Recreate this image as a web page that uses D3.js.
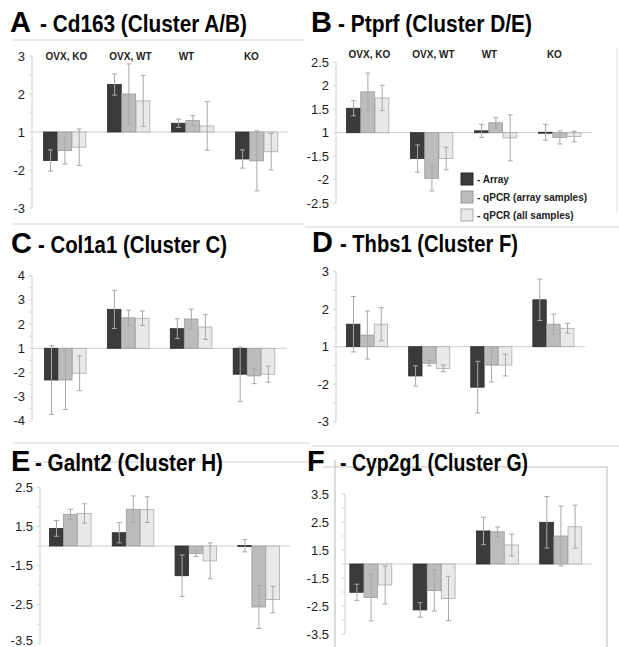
<!DOCTYPE html>
<html>
<head>
<meta charset="utf-8">
<script src="https://cdn.jsdelivr.net/npm/d3@7"></script>
<style>
  body { margin: 0; background: #fff; }
  svg { font-family: "Liberation Sans", Arial, sans-serif; }
</style>
</head>
<body>
<svg id="chart" width="619" height="647"></svg>
<script>
// groups and series
const categories = ["OVX, KO", "OVX, WT", "WT", "KO"];
const seriesNames = ["- Array", "- qPCR (array samples)", "- qPCR (all samples)"];

// fold change values, one row per series (Array, qPCR array samples, qPCR all samples)
const cd163Vals = [[-1.75, 2.25, 1.23, -1.71], [-1.49, 2.0, 1.3, -1.76], [-1.40, 1.82, 1.16, -1.52]];
const cd163Errs = [[0.28, 0.28, 0.11, 0.24], [0.35, 0.79, 0.13, 0.79], [0.48, 0.67, 0.64, 0.48]];
const cd163Ticks = [3, 2, 1, -2, -3];

const ptprfVals = [[1.52, -1.55, 1.04, 1.01], [1.87, -1.97, 1.21, -1.1], [1.74, -1.55, -1.11, -1.08]];
const ptprfErrs = [[0.16, 0.29, 0.14, 0.17], [0.40, 0.27, 0.11, 0.14], [0.27, 0.24, 0.49, 0.11]];
const ptprfTicks = [2.5, 2, 1.5, 1, -1.5, -2, -2.5];

const col1a1Vals = [[-2.31, 2.61, 1.81, -2.07], [-2.31, 2.26, 2.21, -2.14], [-2.03, 2.24, 1.88, -2.07]];
const col1a1Errs = [[1.42, 0.79, 0.41, 1.12], [1.22, 0.32, 0.41, 0.32], [0.72, 0.30, 0.51, 0.33]];
const col1a1Ticks = [4, 3, 2, 1, -2, -3, -4];

const thbs1Vals = [[1.6, -1.78, -2.08, 2.25], [1.31, -1.44, -1.49, 1.6], [1.6, -1.58, -1.49, 1.49]];
const thbs1Errs = [[0.74, 0.27, 0.69, 0.55], [0.64, 0.07, 0.45, 0.27], [0.44, 0.09, 0.29, 0.13]];
const thbs1Ticks = [3, 2, 1, -2, -3];

const galnt2Vals = [[1.45, 1.34, -1.76, 1.01], [1.81, 1.94, -1.19, -2.56], [1.83, 1.93, -1.38, -2.37]];
const galnt2Errs = [[0.20, 0.26, 0.53, 0.16], [0.13, 0.34, 0.08, 0.55], [0.25, 0.33, 0.46, 0.34]];
const galnt2Ticks = [2.5, 1.5, -1.5, -2.5, -3.5];

const cyp2g1Vals = [[-2.01, -2.64, 2.18, 2.49], [-2.2, -1.95, 2.15, 2.0], [-1.75, -2.23, 1.68, 2.33]];
const cyp2g1Errs = [[0.29, 0.26, 0.49, 0.92], [0.83, 0.73, 0.17, 1.07], [0.68, 0.79, 0.39, 0.77]];
const cyp2g1Ticks = [3.5, 2.5, 1.5, -1.5, -2.5, -3.5];

// fold change axis skips -1..1 : 1 and -1 both sit on the baseline
const fold = (v) => v >= 1 ? v - 1 : v + 1;

const fills = ["#3b3b3b", "#bcbcbc", "#e9e9e9"];
const strokes = ["#2a2a2a", "#9a9a9a", "#ababab"];

const panels = [
    {letter: "A", name: "- Cd163 (Cluster A/B)", vals: cd163Vals, errs: cd163Errs, ticks: cd163Ticks,
     ax: 32, gx: [32.4, 288.4], lineEnd: 288, y0: 132, k: 38, lx: 10, tx: 40, tw: 207, ty: 32, catY: 60},
    {letter: "B", name: "- Ptprf (Cluster D/E)", vals: ptprfVals, errs: ptprfErrs, ticks: ptprfTicks,
     ax: 336, gx: [335.4, 591.4], lineEnd: 592, y0: 132.7, k: 47, lx: 311, tx: 338, tw: 194, ty: 32, catY: 58},
    {letter: "C", name: "- Col1a1 (Cluster C)", vals: col1a1Vals, errs: col1a1Errs, ticks: col1a1Ticks,
     ax: 32, gx: [33.6, 285.2], lineEnd: 287, y0: 348.3, k: 24.2, lx: 11, tx: 38, tw: 189, ty: 253},
    {letter: "D", name: "- Thbs1 (Cluster F)", vals: thbs1Vals, errs: thbs1Errs, ticks: thbs1Ticks,
     ax: 336, gx: [335.8, 584.2], lineEnd: 585, y0: 346.7, k: 37.5, lx: 312, tx: 340, tw: 178, ty: 252},
    {letter: "E", name: "- Galnt2 (Cluster H)", vals: galnt2Vals, errs: galnt2Errs, ticks: galnt2Ticks,
     ax: 40, gx: [38.6, 289.8], lineEnd: 290, y0: 546, k: 39.1, lx: 11, tx: 35, tw: 188, ty: 471},
    {letter: "F", name: "- Cyp2g1 (Cluster G)", vals: cyp2g1Vals, errs: cyp2g1Errs, ticks: cyp2g1Ticks,
     ax: 345, gx: [338.9, 592.1], lineEnd: 592, y0: 564, k: 28, lx: 307, tx: 340, tw: 188, ty: 471, labelX: 329}
];

const svg = d3.select("#chart");
svg.append("rect").attr("width", 619).attr("height", 647).attr("fill", "#fff");

// separator lines between panels
const deco = svg.append("g").attr("stroke", "#d4d4d4").attr("fill", "none").attr("stroke-width", 1.2);
[[13, 304, 40], [13, 304, 224], [305, 619, 227], [13, 310, 443], [312, 619, 446], [33, 310, 462]].forEach((l) => {
    deco.append("line").attr("x1", l[0]).attr("x2", l[1]).attr("y1", l[2]).attr("y2", l[2]);
});
deco.append("path").attr("d", "M323,467H607V647M335,460V647").attr("stroke", "#c4c4c4");
deco.append("line").attr("x1", 617).attr("x2", 617).attr("y1", 47).attr("y2", 213).attr("stroke", "#e4e4e4");

panels.forEach((p) => {
    const g = svg.append("g");

    const yScale = d3.scaleLinear().domain([0, 1]).range([p.y0, p.y0 - p.k]);
    const xScale = d3.scaleBand().domain(categories).range(p.gx).paddingInner(0.33).paddingOuter(0.165);
    const sScale = d3.scaleBand().domain(d3.range(3)).range([0, xScale.bandwidth()]);

    // title
    g.append("text")
        .attr("x", p.lx).attr("y", p.ty)
        .style("font-size", "29px").style("font-weight", "bold")
        .text(p.letter);
    g.append("text")
        .attr("x", p.tx).attr("y", p.ty)
        .style("font-size", "23px").style("font-weight", "bold")
        .attr("textLength", p.tw).attr("lengthAdjust", "spacingAndGlyphs")
        .text(p.name);

    // y axis
    const tTop = fold(d3.max(p.ticks)), tBot = fold(d3.min(p.ticks));
    g.append("line")
        .attr("x1", p.ax).attr("x2", p.ax)
        .attr("y1", yScale(tTop)).attr("y2", yScale(tBot))
        .attr("stroke", "#cfcfcf");
    const minor = d3.range(tBot, tTop + 0.01, 0.5);
    g.selectAll(".minor").data(minor).enter().append("line")
        .attr("x1", p.ax - 3).attr("x2", p.ax)
        .attr("y1", (d) => yScale(d)).attr("y2", (d) => yScale(d))
        .attr("stroke", "#d6d6d6");
    g.selectAll(".tick-label").data(p.ticks).enter().append("text")
        .attr("x", p.labelX || p.ax - 7)
        .attr("y", (d) => Math.min(yScale(fold(d)) + 4.5, 645))
        .attr("text-anchor", "end")
        .style("font-size", "13px")
        .attr("fill", "#222")
        .text((d) => d);

    // baseline
    g.append("line")
        .attr("x1", p.ax).attr("x2", p.lineEnd)
        .attr("y1", yScale(0)).attr("y2", yScale(0))
        .attr("stroke", "#cfcfcf");

    // category labels (top panels only)
    if (p.catY) {
        g.selectAll(".cat").data(categories).enter().append("text")
            .attr("x", (d) => xScale(d) + xScale.bandwidth() / 2 + (d === "WT" ? -6 : d === "KO" ? -5 : 2))
            .attr("y", p.catY)
            .attr("text-anchor", "middle")
            .style("font-size", "10px").style("font-weight", "bold")
            .attr("fill", "#222")
            .text((d) => d);
    }

    // bars
    const rows = [];
    p.vals.forEach((row, s) => {
        row.forEach((v, i) => {
            rows.push({s: s, cat: categories[i], t: fold(v), e: p.errs[s][i]});
        });
    });

    g.selectAll(".bar").data(rows).enter().append("rect")
        .attr("x", (d) => xScale(d.cat) + sScale(d.s) + 0.5)
        .attr("y", (d) => Math.min(yScale(d.t), yScale(0)))
        .attr("width", sScale.bandwidth() - 0.5)
        .attr("height", (d) => Math.max(1, Math.abs(yScale(d.t) - yScale(0))))
        .attr("fill", (d) => fills[d.s])
        .attr("stroke", (d) => strokes[d.s])
        .attr("stroke-width", 0.8);

    // error bars
    const eb = g.selectAll(".err").data(rows).enter().append("g")
        .attr("stroke", "#a8a8a8").attr("stroke-width", 1);
    const cx = (d) => xScale(d.cat) + sScale(d.s) + sScale.bandwidth() / 2 + 0.5;
    eb.append("line")
        .attr("x1", cx).attr("x2", cx)
        .attr("y1", (d) => yScale(d.t + d.e)).attr("y2", (d) => yScale(d.t - d.e));
    [1, -1].forEach((sign) => {
        eb.append("line")
            .attr("x1", (d) => cx(d) - 2.5).attr("x2", (d) => cx(d) + 2.5)
            .attr("y1", (d) => yScale(d.t + sign * d.e)).attr("y2", (d) => yScale(d.t + sign * d.e));
    });
});

// legend (panel B)
const legend = svg.append("g").attr("transform", "translate(461, 173)");
seriesNames.forEach((name, i) => {
    legend.append("rect")
        .attr("x", 0).attr("y", i * 18)
        .attr("width", 12).attr("height", 12)
        .attr("fill", fills[i]).attr("stroke", strokes[i]);
    legend.append("text")
        .attr("x", 16).attr("y", i * 18 + 10)
        .style("font-size", "10px").style("font-weight", "bold")
        .attr("fill", "#222")
        .text(name);
});
</script>
</body>
</html>
